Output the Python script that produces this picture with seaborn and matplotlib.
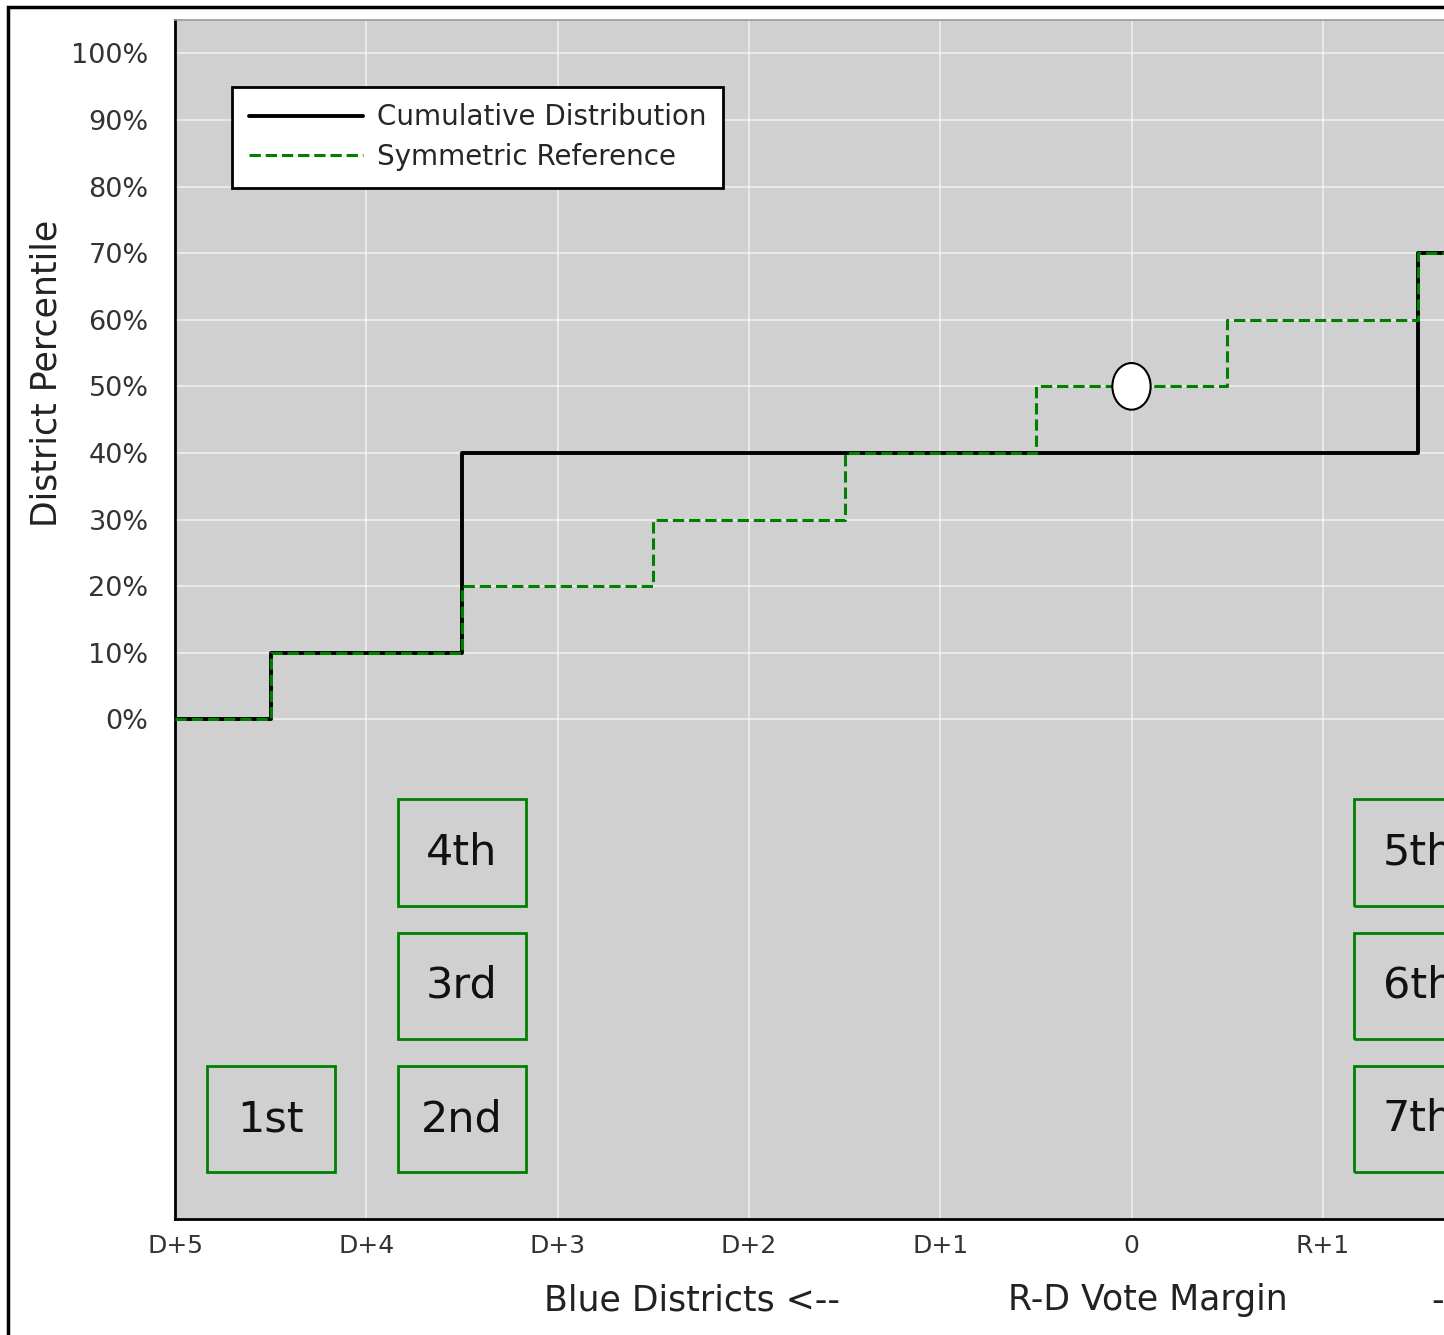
import matplotlib
matplotlib.use("Agg")  # headless-safe backend
import matplotlib.pyplot as plt
import matplotlib.transforms as mtransforms
from matplotlib.patches import Rectangle, Ellipse
from matplotlib.ticker import PercentFormatter
import numpy as np
import seaborn as sns

# district results (R-D margin, in points); 8th-10th sit off the visible area
district_names = ["1st", "2nd", "3rd", "4th", "5th", "6th", "7th", "8th", "9th", "10th"]
district_margins = [-4.5, -3.5, -3.5, -3.5, 1.5, 1.5, 1.5, 2.5, 3.5, 4.5]
reference_margins = [-4.5, -3.5, -2.5, -1.5, -0.5, 0.5, 1.5, 2.5, 3.5, 4.5]

x_ticks = [-5, -4, -3, -2, -1, 0, 1, 2, 3, 4, 5]
x_tick_labels = ["D+5", "D+4", "D+3", "D+2", "D+1", "0", "R+1", "R+2", "R+3", "R+4", "R+5"]
y_ticks = [0.0, 0.1, 0.2, 0.3, 0.4, 0.5, 0.6, 0.7, 0.8, 0.9, 1.0]
box_rows = [-0.6, -0.4, -0.2]
median_margin = 0.0
median_pct = 0.5
X_MIN, X_MAX = -5, 5


def cumulative_steps(margins):
    """Step coordinates of the empirical CDF, starting at the left axis edge."""
    xs = np.sort(np.asarray(margins, dtype=float))
    ys = np.arange(1, len(xs) + 1) / len(xs)
    return np.r_[X_MIN, xs], np.r_[0.0, ys]


sns.set_style("whitegrid", {
    "axes.facecolor": "#d0d0d0",
    "grid.color": "white",
    "axes.edgecolor": "black",
})
plt.rcParams["font.family"] = ["DejaVu Sans"]

W, H = 1444, 1335
fig = plt.figure(figsize=(W / 100, H / 100), dpi=100)
fig.patch.set_facecolor("white")
# axes runs past the right edge of the canvas, as in the reference crop
ax = fig.add_axes([175 / W, 116 / H, 1913 / W, 1199 / H])

cx, cy = cumulative_steps(district_margins)
rx, ry = cumulative_steps(reference_margins)
sns.lineplot(x=cx, y=cy, ax=ax, color="black", lw=2.8, drawstyle="steps-post",
             estimator=None, sort=False, zorder=3, label="Cumulative Distribution")
sns.lineplot(x=rx, y=ry, ax=ax, color="green", lw=2.2, ls="--", drawstyle="steps-post",
             estimator=None, sort=False, zorder=4, label="Symmetric Reference")

ax.add_patch(Ellipse((median_margin, median_pct), width=0.2, height=0.07,
                     facecolor="white", edgecolor="black", lw=1.5, zorder=5))

# district boxes, stacked where several districts share a margin
groups = {}
for name, m in zip(district_names, district_margins):
    groups.setdefault(m, []).append(name)
for m, names in groups.items():
    n = len(names)
    for i, name in enumerate(names):
        row = box_rows[i] if m < 0 else box_rows[n - 1 - i]
        ax.add_patch(Rectangle((m - 0.335, row - 0.08), 0.67, 0.16, fill=False,
                               edgecolor="green", lw=2, zorder=3))
        ax.text(m, row, name, ha="center", va="center", fontsize=31, color="#111111")

ax.set_xlim(X_MIN, X_MAX)
ax.set_ylim(-0.75, 1.05)
ax.set_xticks(x_ticks)
ax.set_xticklabels(x_tick_labels)
ax.set_yticks(y_ticks)
ax.yaxis.set_major_formatter(PercentFormatter(1.0, decimals=0))
ax.grid(True, color="white", lw=1.2, alpha=0.65)
ax.set_axisbelow(True)

ax.tick_params(axis="y", direction="out", length=13, width=1.5, pad=6,
               labelsize=19.5, labelcolor="#333333", color="black")
ax.tick_params(axis="x", direction="in", length=9.5, width=1.5, pad=11,
               labelsize=18, labelcolor="#333333", color="black")

for side in ["left", "bottom", "right"]:
    ax.spines[side].set_color("black")
    ax.spines[side].set_linewidth(2)
ax.spines["top"].set_color("#9a9a9a")
ax.spines["top"].set_linewidth(1.2)

ax.set_xlabel("")
ax.set_ylabel("District Percentile", fontsize=25, color="#222222")
ylab_tr = mtransforms.blended_transform_factory(ax.transAxes, ax.transData)
ax.yaxis.set_label_coords(-0.0585, 0.52, transform=ylab_tr)

xtr = ax.get_xaxis_transform()
ax.text(-2.30, -0.0676, "Blue Districts <--", transform=xtr, ha="center", va="center",
        fontsize=25, color="#222222")
ax.text(0.084, -0.0676, "R-D Vote Margin", transform=xtr, ha="center", va="center",
        fontsize=25, color="#222222")
ax.text(1.57, -0.0676, "--> Red Districts", transform=xtr, ha="left", va="center",
        fontsize=25, color="#222222")

leg = ax.legend(loc="upper left", bbox_to_anchor=(-4.70, 0.95), bbox_transform=ax.transData,
                fontsize=20, frameon=True, fancybox=False, framealpha=1, edgecolor="black",
                borderaxespad=0, borderpad=0.6, labelspacing=0.42, handlelength=4.1,
                handletextpad=0.5)
leg.get_frame().set_linewidth(2)
leg.get_frame().set_facecolor("white")

# outer frame of the original figure (only its top and left edges are in view)
fig.patches.append(Rectangle((8 / W, -0.1), 2, 1.1 - 7 / H, transform=fig.transFigure,
                             fill=False, edgecolor="black", lw=2.5, zorder=10))

fig.savefig("out.png", dpi=100)
